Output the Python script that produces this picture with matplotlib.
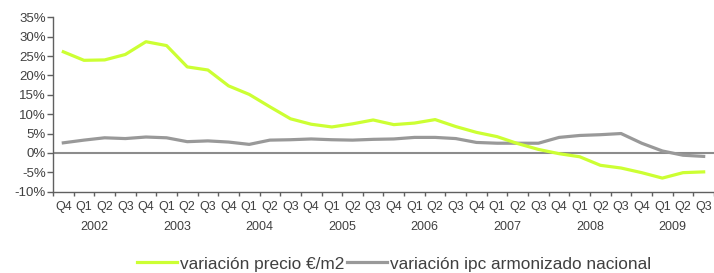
import matplotlib.pyplot as plt
import numpy as np

plt.rcParams['font.family'] = ['Liberation Sans', 'DejaVu Sans']

quarters = ['Q4', 'Q1', 'Q2', 'Q3'] * 8
years = ['2002', '2003', '2004', '2005', '2006', '2007', '2008', '2009']

precio = [26.1, 23.9, 24.0, 25.4, 28.7, 27.7, 22.2, 21.4, 17.3, 15.1, 11.9,
          8.8, 7.4, 6.7, 7.5, 8.5, 7.3, 7.7, 8.6, 6.8, 5.3, 4.2, 2.4, 0.9,
          -0.2, -1.0, -3.2, -3.9, -5.1, -6.5, -5.1, -4.9]
ipc = [2.6, 3.3, 3.9, 3.7, 4.1, 3.9, 2.9, 3.1, 2.8, 2.2, 3.3, 3.4, 3.6, 3.4,
       3.3, 3.5, 3.6, 4.0, 4.0, 3.7, 2.7, 2.5, 2.5, 2.5, 4.0, 4.5, 4.7, 5.0,
       2.5, 0.5, -0.6, -0.9]

x = np.arange(len(precio))
txt = '#404040'

fig = plt.figure(figsize=(7.14, 2.73), dpi=100)
ax = fig.add_axes([0.0742, 0.298, 0.9258, 0.6386])

ax.axhline(0, color='#8c8c8c', lw=1.5, zorder=1)
ax.plot(x, precio, color='#ccff33', lw=2.3, label='variación precio €/m2',
        solid_joinstyle='round', zorder=3)
ax.plot(x, ipc, color='#999999', lw=2.3, label='variación ipc armonizado nacional',
        solid_joinstyle='round', zorder=2)

ax.set_xlim(-0.5, len(x) - 0.5)
ax.set_ylim(-10, 35)
ax.set_yticks(np.arange(-10, 36, 5))
ax.set_yticklabels([f'{v}%' for v in range(-10, 36, 5)])

ax.set_xticks(np.arange(-0.5, len(x), 1))
ax.set_xticklabels([])
ax.set_xticks(x, minor=True)
ax.set_xticklabels(quarters, minor=True)
ax.tick_params(axis='x', which='minor', length=0, pad=7, labelsize=9, colors=txt)
ax.tick_params(axis='x', which='major', length=3, color='#606060', width=1)
ax.tick_params(axis='y', length=4, color='#606060', width=1, labelsize=9.5,
               labelcolor=txt, pad=1)

for i, yr in enumerate(years):
    ax.text(4 * i + 1.5, -0.205, yr, transform=ax.get_xaxis_transform(),
            ha='center', va='center', fontsize=9, color=txt)

for s in ['top', 'right']:
    ax.spines[s].set_visible(False)
for s in ['left', 'bottom']:
    ax.spines[s].set_color('#606060')
    ax.spines[s].set_linewidth(1)

fig.legend(loc='center', bbox_to_anchor=(0.552, 0.033), ncol=2, frameon=False,
           fontsize=12.4, handlelength=2.3, handletextpad=0.15, columnspacing=0.2,
           labelcolor=txt)

fig.savefig('out.png', dpi=100)
